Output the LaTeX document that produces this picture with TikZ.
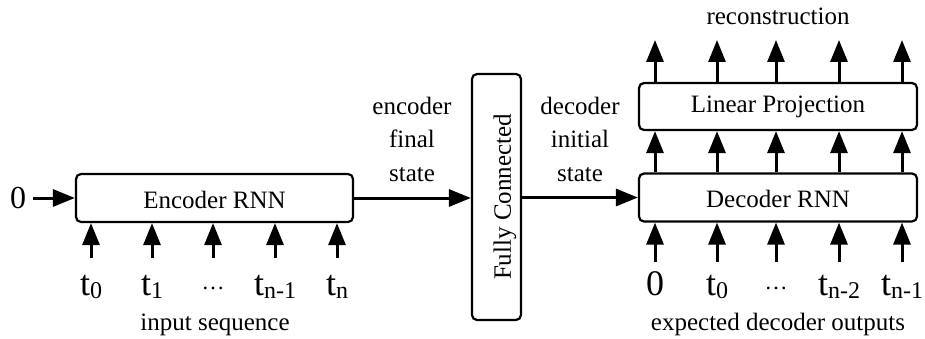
\documentclass[tikz,border=0pt]{standalone}
\usepackage{fontspec}
\setmainfont{Liberation Serif}
\usetikzlibrary{arrows.meta}
\newcommand{\mysub}[1]{\raisebox{-3.5pt}{\fontsize{24}{24}\selectfont #1}}
\newcommand{\mydots}{\raisebox{6pt}{\fontsize{23}{23}\selectfont …}}
\begin{document}
\begin{tikzpicture}[x=1pt,y=-1pt,
  box/.style={draw,line width=2.2pt,rounded corners=5pt,inner sep=0pt},
  arr/.style={line width=3pt,-{Triangle[length=22pt,width=17pt]}},
  txt/.style={font=\fontsize{25}{33.5}\selectfont,inner sep=0pt,anchor=base},
  lab/.style={font=\fontsize{36}{36}\selectfont,inner sep=0pt,anchor=base}]
\useasboundingbox (0,0) rectangle (925,339);
% boxes
\node[box,minimum width=277pt,minimum height=48pt] (enc) at (214.5,198) {};
\node[txt] at (214.5,208) {Encoder RNN};
\node[box,minimum width=49pt,minimum height=246pt] (fc) at (496.5,197) {};
\node[txt,rotate=90,anchor=center] at (505,197) {Fully Connected};
\node[box,minimum width=278pt,minimum height=48pt] (dec) at (778,197.5) {};
\node[txt] at (778,207) {Decoder RNN};
\node[box,minimum width=278pt,minimum height=47pt] (lin) at (778,106.5) {};
\node[txt] at (778,113) {Linear Projection};
% left input
\node[lab,anchor=center,font=\fontsize{32}{32}\selectfont] (zero) at (18,198) {0};
\coordinate (zs) at (33,198);
\draw[arr] (zs) -- (enc.west);
% encoder -> fc -> decoder
\draw[arr] (enc.east) -- (fc.west |- enc.east);
\draw[arr] (fc.east |- dec.west) -- (dec.west);
\node[txt] (ef1) at (412,115) {encoder};
\node[txt] (ef2) at (412,148) {final};
\node[txt] (ef3) at (412,182) {state};
\node[txt] (di1) at (580,115) {decoder};
\node[txt] (di2) at (580,148) {initial};
\node[txt] (di3) at (580,182) {state};
% encoder inputs
\foreach \x/\l [count=\i] in {91/t\mysub{0},152/t\mysub{1},213/\mydots,275/t\mysub{n-1},337/t\mysub{n}}{
  \coordinate (ei\i) at (\x,258);
  \draw[arr] (ei\i) -- (enc.south -| ei\i);
  \node[lab] (el\i) at (\x,295) {\l};
}
\node[txt] (insq) at (215,330) {input sequence};
% decoder inputs and outputs
\foreach \x/\l [count=\i] in {655/0,717/t\mysub{0},776/\mydots,839/t\mysub{n-2},902/t\mysub{n-1}}{
  \coordinate (dj\i) at (\x,262);
  \draw[arr] (dj\i) -- (dec.south -| dj\i);
  \draw[arr] (dec.north -| dj\i) -- (lin.south -| dj\i);
  \coordinate (do\i) at (\x,40);
  \draw[arr] (lin.north -| dj\i) -- (do\i);
  \node[lab] (dl\i) at (\x,295) {\l};
}
\node[txt] (exp) at (778,330) {expected decoder outputs};
\node[txt] (rec) at (778,25) {reconstruction};
\end{tikzpicture}
\end{document}
